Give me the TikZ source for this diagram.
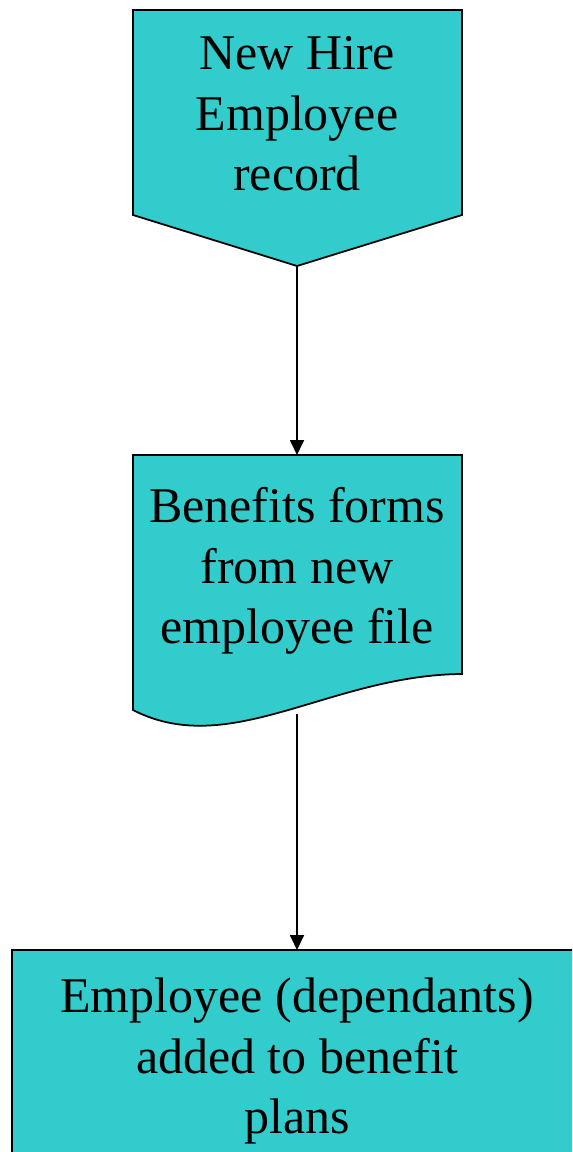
\documentclass[tikz,border=0pt]{standalone}
\usepackage{fontspec}
\setmainfont{Liberation Serif}
\usetikzlibrary{arrows.meta}
\definecolor{turquoise}{HTML}{33CCCC}

\begin{document}
\begin{tikzpicture}[x=0.02cm,y=-0.02cm,
  boite/.style={draw=black,fill=turquoise,line width=1pt},
  texte/.style={align=center,inner sep=0pt,font=\fontsize{28.45}{34.4}\selectfont},
  fleche/.style={-{Triangle[length=3mm,width=2.8mm]},line width=1pt}]
\useasboundingbox (0,0) rectangle (572,1152);
\clip (0,0) rectangle (572,1152);
\draw[boite] (133,10) -- (462,10) -- (462,215) -- (297,266) -- (133,215) -- cycle;
\node[texte] (embauche) at (297,114) {New Hire\\Employee\\record};
\coordinate (embauche-pointe) at (297,266);
\draw[boite] (133,455) -- (462,455) -- (462,674) .. controls (330,675) and (230,760) .. (133,710) -- cycle;
\node[texte] (formulaires) at (297,571) {Benefits forms\\from new\\employee file};
\coordinate (formulaires-haut) at (297,455);
\coordinate (formulaires-bas) at (297,714);
\draw[boite] (12,950) rectangle (600,1200);
\node[texte] (regimes) at (297,1061) {Employee (dependants)\\added to benefit\\plans};
\coordinate (regimes-haut) at (297,950);
\draw[fleche] (embauche-pointe) -- (formulaires-haut);
\draw[fleche] (formulaires-bas) -- (regimes-haut);
\end{tikzpicture}
\end{document}
